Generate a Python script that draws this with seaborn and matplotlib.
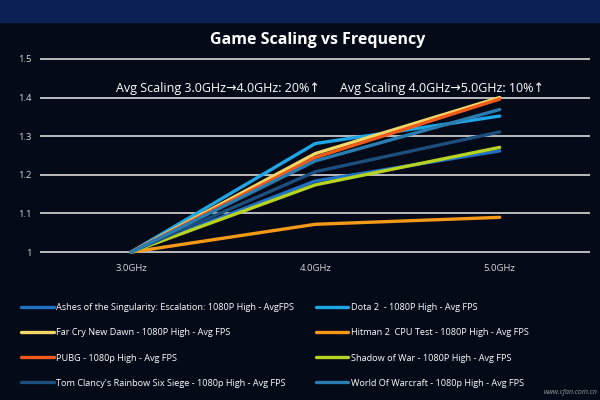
import matplotlib
matplotlib.use("Agg")
import matplotlib.pyplot as plt
import seaborn as sns
import pandas as pd

# values (relative fps, 3.0GHz = 1)
freqs = [3.0, 4.0, 5.0]
freq_labels = ["3.0GHz", "4.0GHz", "5.0GHz"]
games = [
    "Ashes of the Singularity: Escalation: 1080P High - AvgFPS",
    "Dota 2  - 1080P High - Avg FPS",
    "Far Cry New Dawn - 1080P High - Avg FPS",
    "Hitman 2  CPU Test - 1080P High - Avg FPS",
    "PUBG - 1080p High - Avg FPS",
    "Shadow of War - 1080P High - Avg FPS",
    "Tom Clancy's Rainbow Six Siege - 1080p High - Avg FPS",
    "World Of Warcraft - 1080p High - Avg FPS",
]
ashes = [1.0, 1.184, 1.262]
dota = [1.0, 1.281, 1.352]
farcry = [1.0, 1.255, 1.400]
hitman = [1.0, 1.072, 1.090]
pubg = [1.0, 1.245, 1.396]
shadow = [1.0, 1.174, 1.271]
siege = [1.0, 1.208, 1.311]
wow = [1.0, 1.236, 1.369]
yticks = [1.0, 1.1, 1.2, 1.3, 1.4, 1.5]
ytick_labels = ["1", "1.1", "1.2", "1.3", "1.4", "1.5"]

colors = ["#1f72c4", "#1ea6e6", "#f2d765", "#f59a16",
          "#f25a1c", "#b8d321", "#1c4e7e", "#2a7db0"]

series = [ashes, dota, farcry, hitman, pubg, shadow, siege, wow]
df = pd.DataFrame({
    "freq": freqs * len(games),
    "value": [v for s in series for v in s],
    "game": [g for g in games for _ in freqs],
})

sns.set_style("dark")
plt.rcParams["font.family"] = ["Open Sans", "DejaVu Sans"]

bg = "#050a18"
fig = plt.figure(figsize=(6, 4), dpi=100, facecolor=bg)
# blue strip along the top
fig.patches.append(plt.Rectangle((0, 0.945), 1, 0.055, transform=fig.transFigure,
                                 color="#0c2055", zorder=0))
ax = fig.add_axes([40 / 600, 144 / 400, 550 / 600, 201 / 400])
ax.set_facecolor(bg)

sns.lineplot(data=df, x="freq", y="value", hue="game", hue_order=games,
             palette=colors, linewidth=2.4, ax=ax, legend=False, zorder=3)

ax.set_xlim(2.507, 5.49)
ax.set_ylim(0.99, 1.51)
ax.set_yticks(yticks)
ax.set_yticklabels(ytick_labels)
ax.set_xticks(freqs)
ax.set_xticklabels(freq_labels)
ax.grid(False)
for y in yticks:
    ax.axhline(y, color="#c9c9c9", lw=1.3, zorder=1)
for s in ax.spines.values():
    s.set_visible(False)
ax.tick_params(axis="both", length=0, colors="#d8d8d8", labelsize=6.8)
ax.tick_params(axis="x", pad=6)
ax.tick_params(axis="y", pad=6)
ax.set_xlabel("")
ax.set_ylabel("")

fig.text(0.53, 0.9, "Game Scaling vs Frequency", color="white",
         fontsize=11.5, fontweight="bold", ha="center", va="center")
ax.text(3.47, 1.424, "Avg Scaling 3.0GHz\u21924.0GHz: 20%\u2191", color="white",
        fontsize=9, ha="center", va="center",
        family=["Open Sans", "DejaVu Sans"])
ax.text(4.69, 1.424, "Avg Scaling 4.0GHz\u21925.0GHz: 10%\u2191", color="white",
        fontsize=9, ha="center", va="center",
        family=["Open Sans", "DejaVu Sans"])

handles = [plt.Line2D([], [], color=c, lw=2.4) for c in colors]
order = [0, 2, 4, 6, 1, 3, 5, 7]
leg = fig.legend([handles[i] for i in order], [games[i] for i in order],
                 ncol=2, loc="upper left", bbox_to_anchor=(0.022, 0.262),
                 frameon=False, fontsize=6.6, labelcolor="white",
                 handlelength=3.5, handletextpad=0.3, columnspacing=2.4,
                 labelspacing=1.75)

fig.text(0.995, 0.01, "www.cfan.com.cn", color="#9a9a9a", fontsize=5,
         ha="right", va="bottom", style="italic")

fig.savefig("out.png", dpi=100, facecolor=bg)
